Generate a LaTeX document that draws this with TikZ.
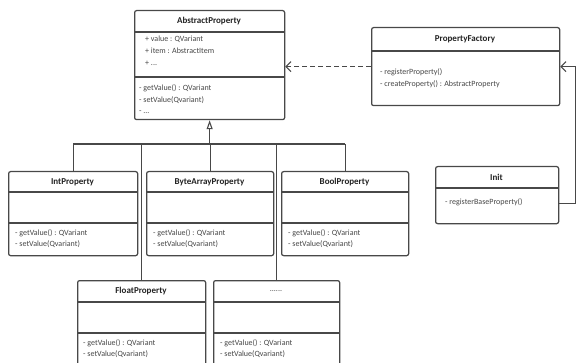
\documentclass[tikz,border=0pt]{standalone}
\usepackage{fontspec}
\setmainfont{Carlito}
\usetikzlibrary{arrows.meta}

\definecolor{boxline}{HTML}{484848}
\definecolor{titletext}{HTML}{222222}
\definecolor{membertext}{HTML}{474747}

\begin{document}
\begin{tikzpicture}[x=1pt,y=-1pt,
  cls/.style={draw=boxline, line width=1.25pt, rounded corners=2pt, inner sep=0pt, anchor=north west, fill=white},
  sep/.style={draw=boxline, line width=1.25pt},
  ttl/.style={font=\fontsize{9}{10}\selectfont\bfseries, text=titletext, inner sep=0pt},
  mem/.style={font=\fontsize{8}{9.5}\selectfont, text=membertext, anchor=west, inner sep=0pt},
  link/.style={draw=boxline, line width=1.1pt},
  inherit/.style={link, -{Triangle[open, width=6pt, length=9pt]}},
  depend/.style={link, dashed, dash pattern=on 5pt off 3pt, -{Straight Barb[length=5pt, width=10pt]}},
  assoc/.style={link, -{Straight Barb[length=5pt, width=10pt]}}
]
\clip (0,0) rectangle (577,363);
\fill[white] (0,0) rectangle (577,363);

% ---------- class boxes ----------
\node[cls, minimum width=150, minimum height=109] (ap) at (134,10) {};
\node[cls, minimum width=188, minimum height=78]  (pf) at (371,27) {};
\node[cls, minimum width=123, minimum height=57]  (init) at (435,166) {};
\node[cls, minimum width=129, minimum height=84]  (int) at (8,171) {};
\node[cls, minimum width=127, minimum height=84]  (byte) at (146,171) {};
\node[cls, minimum width=127, minimum height=84]  (bool) at (281,171) {};
\node[cls, minimum width=128, minimum height=90]  (float) at (77,280) {};
\node[cls, minimum width=126, minimum height=90]  (more) at (213,280) {};

% ---------- compartment separators ----------
\draw[sep] (134,32) -- (284,32);
\draw[sep] (134,77) -- (284,77);
\draw[sep] (371,51) -- (559,51);
\draw[sep] (435,188) -- (558,188);
\foreach \l/\r in {8/137, 146/273, 281/408} {
  \draw[sep] (\l,192) -- (\r,192);
  \draw[sep] (\l,223) -- (\r,223);
}
\foreach \l/\r in {77/205, 213/339} {
  \draw[sep] (\l,302) -- (\r,302);
  \draw[sep] (\l,333) -- (\r,333);
}

% ---------- AbstractProperty ----------
\node[ttl] at (209,21) {AbstractProperty};
\node[mem] at (145,39) {+ value : QVariant};
\node[mem] at (145,51) {+ item : AbstractItem};
\node[mem] at (145,63) {+ ...};
\node[mem] at (139,88) {- getValue() : QVariant};
\node[mem] at (139,100) {- setValue(Qvariant)};
\node[mem] at (139,112) {- ...};

% ---------- PropertyFactory ----------
\node[ttl] at (465,39) {PropertyFactory};
\node[mem] at (380,72) {- registerProperty()};
\node[mem] at (380,84) {- createProperty() : AbstractProperty};

% ---------- Init ----------
\node[ttl] at (496.5,177) {Init};
\node[mem] at (445,202) {- registerBaseProperty()};

% ---------- derived classes ----------
\node[ttl] at (72.5,182) {IntProperty};
\node[ttl] at (209.5,182) {ByteArrayProperty};
\node[ttl] at (344.5,182) {BoolProperty};
\node[ttl] at (141,291) {FloatProperty};
\node[mem, anchor=center] at (276,291) {......};
\foreach \x in {15, 153, 288} {
  \node[mem] at (\x,233) {- getValue() : QVariant};
  \node[mem] at (\x,244) {- setValue(Qvariant)};
}
\foreach \x in {83, 220} {
  \node[mem] at (\x,343) {- getValue() : QVariant};
  \node[mem] at (\x,354) {- setValue(Qvariant)};
}

% ---------- generalisation tree ----------
\coordinate (bar) at (0,144);
\draw[link] (int.north |- bar) -- (bool.north |- bar);
\foreach \c in {int, byte, bool, float, more} {
  \draw[link] (\c.north) -- (\c.north |- bar);
}
\draw[inherit] (ap.south |- bar) -- (ap.south);

% ---------- dependencies ----------
\draw[depend] (pf.west) -- (ap.east |- pf.west);
\draw[assoc] ([yshift=-8.5pt]init.east) -- ++(16.5,0) |- (pf.east);
\end{tikzpicture}
\end{document}
